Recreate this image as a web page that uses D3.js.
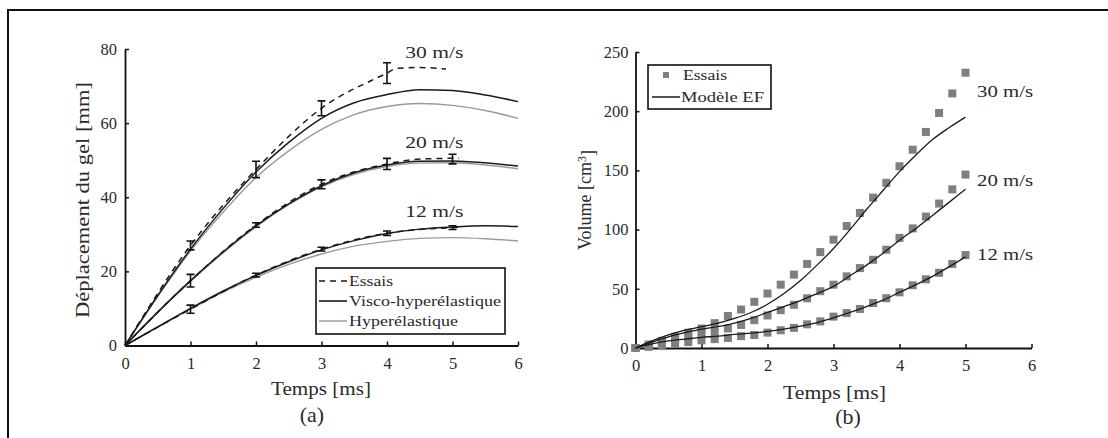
<!DOCTYPE html>
<html>
<head>
<meta charset="utf-8">
<script src="https://cdn.jsdelivr.net/npm/d3@7"></script>
<style>
  html, body { margin: 0; padding: 0; background: #fff; }
  svg { display: block; }
  text { font-family: "Liberation Serif", "Times New Roman", serif; fill: #2a2a2a; }
</style>
</head>
<body>
<svg id="chart" width="1108" height="438"></svg>
<script>
// ---------- Panel (a) data : déplacement du gel [mm] vs temps [ms] ----------
const tModel = [0, 0.5, 1, 1.5, 2, 2.5, 3, 3.5, 4, 4.5, 5, 5.5, 6];
const visco30 = [0, 13.5, 26, 37, 46.8, 54.8, 61.3, 65.5, 67.7, 69, 68.8, 67.6, 65.8];
const hyper30 = [0, 13.2, 25.5, 36, 45.3, 52.5, 58.3, 62.3, 64.5, 65.3, 64.8, 63.4, 61.3];
const visco20 = [0, 9, 17.5, 25.3, 32.3, 38.2, 43.1, 46.6, 48.7, 49.7, 49.8, 49.3, 48.4];
const hyper20 = [0, 9, 17.3, 25, 32, 38, 42.8, 46.2, 48.3, 49.2, 49.3, 48.7, 47.7];
const visco12 = [0, 5, 10, 14.7, 18.9, 22.6, 25.8, 28.3, 30.2, 31.4, 32, 32.3, 32.1];
const hyper12 = [0, 5, 9.8, 14.4, 18.4, 21.9, 24.7, 26.8, 28.1, 28.9, 29.1, 28.8, 28.2];

const tEss30 = [0, 1, 2, 3, 4, 4.15, 4.5, 4.9];
const ess30  = [0, 27, 47.5, 64, 73.5, 74.8, 75, 74.6];
const tEss20 = [0, 1, 2, 3, 4, 4.5, 5, 5.1];
const ess20  = [0, 17.5, 32.5, 43.5, 49, 50.3, 50.5, 50.5];
const tEss12 = [0, 1, 2, 3, 4, 4.5, 5, 5.1];
const ess12  = [0, 9.8, 19, 26, 30.3, 31.3, 31.8, 31.9];

const tErr30 = [1, 2, 3, 4];        const mErr30 = [27, 47.5, 64, 73.5];   const eErr30 = [1.2, 2.2, 2, 2.8];
const tErr20 = [1, 2, 3, 4, 5];     const mErr20 = [17.5, 32.5, 43.5, 49, 50.3]; const eErr20 = [1.7, 0.6, 1.2, 1.5, 1.3];
const tErr12 = [1, 2, 3, 4, 5];     const mErr12 = [9.8, 19, 26, 30.3, 31.8];    const eErr12 = [1.1, 0.5, 0.5, 0.6, 0.5];

const speedLabels = ["30 m/s", "20 m/s", "12 m/s"];
const labelYa = [79.3, 55, 36.3];

// ---------- Panel (b) data : volume [cm3] vs temps [ms] ----------
const tVol = [0, 0.2, 0.4, 0.6, 0.8, 1.0, 1.2, 1.4, 1.6, 1.8, 2.0, 2.2, 2.4, 2.6, 2.8, 3.0, 3.2, 3.4, 3.6, 3.8, 4.0, 4.2, 4.4, 4.6, 4.8, 5.0];
const vol30 = [0, 3, 6, 9.5, 13, 16.5, 21, 27, 32.5, 39, 46, 53.5, 62, 71, 81, 91.5, 103, 114, 127, 139.5, 153.5, 167.5, 182.5, 198.5, 215, 232.5];
const vol20 = [0, 2, 4, 6.5, 9, 12, 14, 16.5, 19.5, 23.5, 27.5, 32, 36.5, 42, 48, 53.5, 60.5, 67.5, 74.5, 83, 93, 101, 111, 122, 134, 146.5];
const vol12 = [0, 1, 2, 3.5, 5, 6.5, 7.5, 8.5, 10, 11, 13, 15, 17, 20, 22.5, 26.5, 29.5, 33, 38, 42, 47, 53, 58, 63.5, 71, 78.5];

const tFE = [0, 0.25, 0.5, 0.75, 1, 1.25, 1.5, 1.75, 2, 2.25, 2.5, 2.75, 3, 3.25, 3.5, 3.75, 4, 4.25, 4.5, 4.75, 5];
const fe30 = [0, 6, 11, 15, 18, 21, 25, 30, 37, 46, 57, 70, 84, 100, 117, 133, 149, 163, 176, 186, 195];
const fe20 = [0, 5, 9.5, 13, 16, 18, 21, 25, 30, 35, 40, 46, 52, 61, 70, 80, 91, 101, 112, 123, 134];
const fe12 = [0, 3.5, 6, 7.5, 9, 10, 11.5, 12.5, 14, 16, 18.5, 21.5, 25.5, 30, 35, 40.5, 47, 53.5, 60.5, 68.5, 77];
const labelYb = [217, 142, 79.5];

const xTicks = [0, 1, 2, 3, 4, 5, 6];
const yTicksA = [0, 20, 40, 60, 80];
const yTicksB = [0, 50, 100, 150, 200, 250];

// ---------- drawing ----------
const svg = d3.select("#chart");
const zip = (xs, ys) => xs.map((x, i) => [x, ys[i]]);
const SERIF = "Liberation Serif, Times New Roman, serif";

// outer frame (top and left edges)
svg.append("path").attr("d", "M8,438V10H1108").attr("fill", "none")
  .attr("stroke", "#111").attr("stroke-width", 2);

function styleAxis(g) {
  g.select(".domain").attr("stroke", "#111").attr("stroke-width", 1.8);
  g.selectAll(".tick line").attr("stroke", "#111").attr("stroke-width", 1.5);
  g.selectAll(".tick text").style("font-family", SERIF)
    .style("font-size", "16.5px").attr("fill", "#333");
}

// ===== Panel (a) =====
const xA = d3.scaleLinear().domain([0, 6]).range([125, 518]);
const yA = d3.scaleLinear().domain([0, 80]).range([345.5, 49]);

svg.append("g").attr("transform", `translate(0,${yA(0)})`)
  .call(d3.axisBottom(xA).tickValues(xTicks).tickFormat(d3.format("d"))
    .tickSizeInner(-4).tickSizeOuter(0).tickPadding(12))
  .call(styleAxis);
svg.append("g").attr("transform", `translate(${xA(0)},0)`)
  .call(d3.axisLeft(yA).tickValues(yTicksA).tickFormat(d3.format("d"))
    .tickSizeInner(-4).tickSizeOuter(0).tickPadding(8))
  .call(styleAxis);

const lineA = d3.line().x(d => xA(d[0])).y(d => yA(d[1])).curve(d3.curveMonotoneX);
const gA = svg.append("g");
[hyper30, hyper20, hyper12].forEach(s => {
  gA.append("path").attr("d", lineA(zip(tModel, s))).attr("fill", "none")
    .attr("stroke", "#9a9a9a").attr("stroke-width", 1.4);
});
[visco30, visco20, visco12].forEach(s => {
  gA.append("path").attr("d", lineA(zip(tModel, s))).attr("fill", "none")
    .attr("stroke", "#1a1a1a").attr("stroke-width", 1.5);
});
[[tEss30, ess30], [tEss20, ess20], [tEss12, ess12]].forEach(([t, s]) => {
  gA.append("path").attr("d", lineA(zip(t, s))).attr("fill", "none")
    .attr("stroke", "#1a1a1a").attr("stroke-width", 1.5).attr("stroke-dasharray", "6,5");
});
// error bars
[[tErr30, mErr30, eErr30], [tErr20, mErr20, eErr20], [tErr12, mErr12, eErr12]].forEach(([t, m, e]) => {
  t.forEach((ti, i) => {
    const x = xA(ti), y1 = yA(m[i] - e[i]), y2 = yA(m[i] + e[i]);
    gA.append("path")
      .attr("d", `M${x},${y1}V${y2}M${x - 4},${y1}H${x + 4}M${x - 4},${y2}H${x + 4}`)
      .attr("fill", "none").attr("stroke", "#111").attr("stroke-width", 1.6);
  });
});
speedLabels.forEach((lab, i) => {
  svg.append("text").attr("x", xA(4.28)).attr("y", yA(labelYa[i])).attr("dy", "0.35em")
    .style("font-size", "17px").attr("textLength", 58).attr("lengthAdjust", "spacingAndGlyphs").text(lab);
});

// legend (a)
const legA = svg.append("g");
legA.append("rect").attr("x", 316).attr("y", 268).attr("width", 189).attr("height", 66)
  .attr("fill", "#fff").attr("stroke", "#111").attr("stroke-width", 1.6);
const legItemsA = [
  { label: "Essais", color: "#1a1a1a", dash: "6,5", w: 1.5, len: 44 },
  { label: "Visco-hyperélastique", color: "#1a1a1a", dash: null, w: 1.6, len: 152 },
  { label: "Hyperélastique", color: "#9a9a9a", dash: null, w: 1.4, len: 109 }
];
legItemsA.forEach((it, i) => {
  const y = 281 + i * 20;
  const ln = legA.append("line").attr("x1", 319).attr("x2", 347).attr("y1", y).attr("y2", y)
    .attr("stroke", it.color).attr("stroke-width", it.w);
  if (it.dash) ln.attr("stroke-dasharray", it.dash);
  legA.append("text").attr("x", 349).attr("y", y).attr("dy", "0.35em")
    .style("font-size", "15px").attr("fill", "#444")
    .attr("textLength", it.len).attr("lengthAdjust", "spacingAndGlyphs").text(it.label);
});

svg.append("text").attr("x", 321).attr("y", 389).attr("text-anchor", "middle").attr("dy", "0.35em")
  .style("font-size", "18px").attr("textLength", 100).attr("lengthAdjust", "spacingAndGlyphs").text("Temps [ms]");
svg.append("text").attr("transform", "translate(83,200) rotate(-90)").attr("text-anchor", "middle").attr("dy", "0.35em")
  .style("font-size", "18px").attr("textLength", 236).attr("lengthAdjust", "spacingAndGlyphs").text("Déplacement du gel [mm]");
svg.append("text").attr("x", 312).attr("y", 414).attr("text-anchor", "middle").attr("dy", "0.35em")
  .style("font-size", "22px").attr("fill", "#111").text("(a)");

// ===== Panel (b) =====
const xB = d3.scaleLinear().domain([0, 6]).range([635.5, 1031.5]);
const yB = d3.scaleLinear().domain([0, 250]).range([348, 52]);

svg.append("g").attr("transform", `translate(0,${yB(0)})`)
  .call(d3.axisBottom(xB).tickValues(xTicks).tickFormat(d3.format("d"))
    .tickSizeInner(-4).tickSizeOuter(0).tickPadding(11))
  .call(styleAxis);
svg.append("g").attr("transform", `translate(${xB(0)},0)`)
  .call(d3.axisLeft(yB).tickValues(yTicksB).tickFormat(d3.format("d"))
    .tickSizeInner(-4).tickSizeOuter(0).tickPadding(7))
  .call(styleAxis);

const gB = svg.append("g");
const sq = 8;
[vol30, vol20, vol12].forEach(s => {
  gB.selectAll(null).data(zip(tVol, s)).enter().append("rect")
    .attr("x", d => xB(d[0]) - sq / 2).attr("y", d => yB(d[1]) - sq / 2)
    .attr("width", sq).attr("height", sq).attr("fill", "#7f7f7f");
});
const lineB = d3.line().x(d => xB(d[0])).y(d => yB(d[1])).curve(d3.curveMonotoneX);
[fe30, fe20, fe12].forEach(s => {
  gB.append("path").attr("d", lineB(zip(tFE, s))).attr("fill", "none")
    .attr("stroke", "#1a1a1a").attr("stroke-width", 1.3);
});
speedLabels.forEach((lab, i) => {
  svg.append("text").attr("x", 977).attr("y", yB(labelYb[i])).attr("dy", "0.35em")
    .style("font-size", "17px").attr("textLength", 56).attr("lengthAdjust", "spacingAndGlyphs").text(lab);
});

// legend (b)
const legB = svg.append("g");
legB.append("rect").attr("x", 648).attr("y", 65).attr("width", 123).attr("height", 44)
  .attr("fill", "#fff").attr("stroke", "#111").attr("stroke-width", 1.6);
legB.append("rect").attr("x", 663).attr("y", 72).attr("width", 6).attr("height", 6).attr("fill", "#7f7f7f");
legB.append("text").attr("x", 683).attr("y", 75).attr("dy", "0.35em").style("font-size", "15px").attr("fill", "#444")
  .attr("textLength", 44).attr("lengthAdjust", "spacingAndGlyphs").text("Essais");
legB.append("line").attr("x1", 652).attr("x2", 680).attr("y1", 97).attr("y2", 97).attr("stroke", "#1a1a1a").attr("stroke-width", 1.5);
legB.append("text").attr("x", 681).attr("y", 97).attr("dy", "0.35em").style("font-size", "15px").attr("fill", "#444")
  .attr("textLength", 83).attr("lengthAdjust", "spacingAndGlyphs").text("Modèle EF");

svg.append("text").attr("x", 834.5).attr("y", 393).attr("text-anchor", "middle").attr("dy", "0.35em")
  .style("font-size", "18px").attr("textLength", 103).attr("lengthAdjust", "spacingAndGlyphs").text("Temps [ms]");
const vl = svg.append("text").attr("transform", "translate(585,200) rotate(-90)").attr("text-anchor", "middle").attr("dy", "0.35em")
  .style("font-size", "18px");
vl.append("tspan").text("Volume [cm");
vl.append("tspan").attr("dy", "-0.45em").style("font-size", "12px").text("3");
vl.append("tspan").attr("dy", "0.45em").text("]");
svg.append("text").attr("x", 848).attr("y", 416).attr("text-anchor", "middle").attr("dy", "0.35em")
  .style("font-size", "22px").attr("fill", "#111").text("(b)");
</script>
</body>
</html>
